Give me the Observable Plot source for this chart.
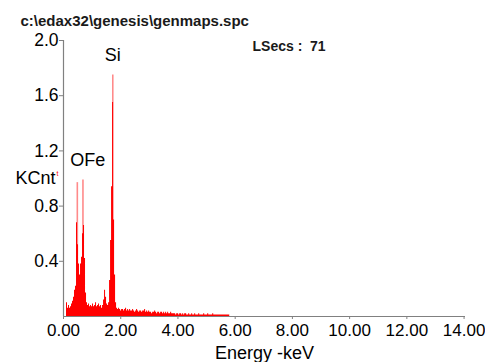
<!DOCTYPE html>
<html>
<head>
<meta charset="utf-8">
<script src="https://cdn.jsdelivr.net/npm/d3@7"></script>
<script src="https://cdn.jsdelivr.net/npm/@observablehq/plot@0.6"></script>
<style>
  html, body { margin: 0; padding: 0; background: #fff; }
</style>
</head>
<body>
<div id="chart"></div>
<script>
// ---- data ----
const title = "c:\\edax32\\genesis\\genmaps.spc";
const liveTime = "LSecs\u00a0:\u00a0\u00a071";
const xLabel = "Energy -keV";
const yLabel = "KCnt";
const xTicks = [0, 2, 4, 6, 8, 10, 12, 14];
const yTicks = [0.4, 0.8, 1.2, 1.6, 2.0];

// spectrum channels (keV grid) and counts (KCnt)
const channelStart = 0.105;
const channelWidth = 0.035;
const counts = [
  0.10, 0.06, 0.08, 0.06, 0.07, 0.09, 0.11, 0.14, 0.19, 0.22,
  0.68, 0.52, 0.38, 0.30, 0.38, 0.43, 0.60, 0.66, 0.42, 0.17,
  0.10, 0.08, 0.09, 0.07, 0.08, 0.07, 0.09, 0.07, 0.08, 0.10,
  0.07, 0.08, 0.09, 0.07, 0.08, 0.06, 0.08, 0.12, 0.19, 0.14,
  0.09, 0.08, 0.10, 0.26, 0.55, 0.94, 1.55, 0.70, 0.30, 0.10,
  0.06, 0.05, 0.06,
  0.05, 0.04, 0.05, 0.05, 0.04, 0.05, 0.06, 0.04, 0.05, 0.04,
  0.05, 0.04, 0.04, 0.05, 0.04, 0.03, 0.04, 0.05, 0.04, 0.03,
  0.04, 0.04, 0.03, 0.04, 0.04, 0.05, 0.03, 0.04,
  0.03, 0.04, 0.03, 0.03, 0.02, 0.03, 0.03, 0.04, 0.03, 0.02,
  0.03, 0.03, 0.02, 0.03, 0.03, 0.02, 0.03, 0.02, 0.03, 0.02,
  0.03, 0.02, 0.02, 0.03, 0.02, 0.02,
  0.02, 0.02, 0.01, 0.02, 0.02, 0.01, 0.02, 0.02, 0.01, 0.02,
  0.01, 0.02, 0.02, 0.01, 0.01, 0.02, 0.01, 0.01, 0.02, 0.01,
  0.01, 0.02, 0.01, 0.01, 0.01, 0.02, 0.01, 0.01,
  0.01, 0.01, 0.02, 0.01, 0.01, 0.01, 0.02, 0.01, 0.01, 0.01,
  0.01, 0.02, 0.01, 0.01, 0.01, 0.01, 0.01, 0.01, 0.01, 0.01,
  0.01, 0.01, 0.01, 0.01, 0.01, 0.01, 0.01, 0.01, 0
];

// narrow peak spikes
const peakNames  = ["O", "Fe", "Si"];
const peakEnergy = [0.483, 0.68, 1.722];
const peakTop    = [0.97, 0.99, 1.75];

// peak labels (attached to a peak)
const labelText = ["OFe", "Si"];
const labelPeak = ["O", "Si"];

// ---- build tables ----
const spectrum = counts.map((c, i) => ({energy: channelStart + i * channelWidth, count: c}));
const peaks = peakNames.map((n, i) => ({name: n, energy: peakEnergy[i], top: peakTop[i]}));
const labels = labelText.map((t, i) => {
  const p = peaks.find(d => d.name === labelPeak[i]);
  return {text: t, energy: p.energy, top: p.top};
});

const font = "Liberation Sans, Arial, sans-serif";
const axisGray = "#808080";

const chart = Plot.plot({
  width: 485,
  height: 362,
  marginLeft: 63,
  marginRight: 20,
  marginTop: 40,
  marginBottom: 46,
  style: {fontFamily: font, background: "#fff", color: "#000", overflow: "visible"},
  x: {domain: [0, 14.05], nice: false},
  y: {domain: [0, 2.0], nice: false},
  marks: [
    Plot.ruleX(peaks, {x: "energy", y1: 0, y2: "top", stroke: "#ff8a8a", strokeWidth: 1.6}),
    Plot.areaY(spectrum, {x: "energy", y: "count", curve: "step-after", fill: "#ff0000"}),
    Plot.ruleY([0], {stroke: axisGray, strokeWidth: 1.2}),
    Plot.ruleX([0], {stroke: axisGray, strokeWidth: 1.2}),
    Plot.axisX({
      ticks: xTicks, tickFormat: d => d.toFixed(2), tickSize: 3, tickPadding: 4,
      stroke: axisGray, fill: "#000", fontSize: 17, label: null
    }),
    Plot.axisY({
      ticks: yTicks, tickFormat: d => d.toFixed(1), tickSize: 4, tickPadding: 1,
      stroke: axisGray, fill: "#000", fontSize: 17.5, label: null
    }),
    Plot.text(labels.filter(d => d.text === "Si"), {
      x: "energy", y: "top", text: "text", dy: -20, textAnchor: "middle", lineAnchor: "middle",
      fontSize: 18, fill: "#000"
    }),
    Plot.text(labels.filter(d => d.text !== "Si"), {
      x: "energy", y: "top", text: "text", dx: -7, dy: -22, textAnchor: "start", lineAnchor: "middle",
      fontSize: 18, fill: "#000"
    }),
    Plot.text([title], {
      frameAnchor: "top-left", dx: -43, dy: -19, textAnchor: "start", lineAnchor: "middle",
      fontSize: 15, fontWeight: "bold", fill: "#1a1a1a"
    }),
    Plot.text([liveTime], {
      frameAnchor: "top-left", dx: 189, dy: 6, textAnchor: "start", lineAnchor: "middle",
      fontSize: 14, fontWeight: "bold", fill: "#1a1a1a"
    }),
    Plot.text([yLabel], {
      frameAnchor: "left", dx: -8, textAnchor: "end", lineAnchor: "middle", fontSize: 18, fill: "#000"
    }),
    Plot.text(["t"], {
      frameAnchor: "left", dx: -7, dy: -5, textAnchor: "start", lineAnchor: "middle", fontSize: 7, fill: "#ff0000"
    }),
    Plot.text([xLabel], {
      frameAnchor: "bottom", dy: 37, textAnchor: "middle", lineAnchor: "middle", fontSize: 18, fill: "#000"
    })
  ]
});
document.getElementById("chart").appendChild(chart);
</script>
</body>
</html>
